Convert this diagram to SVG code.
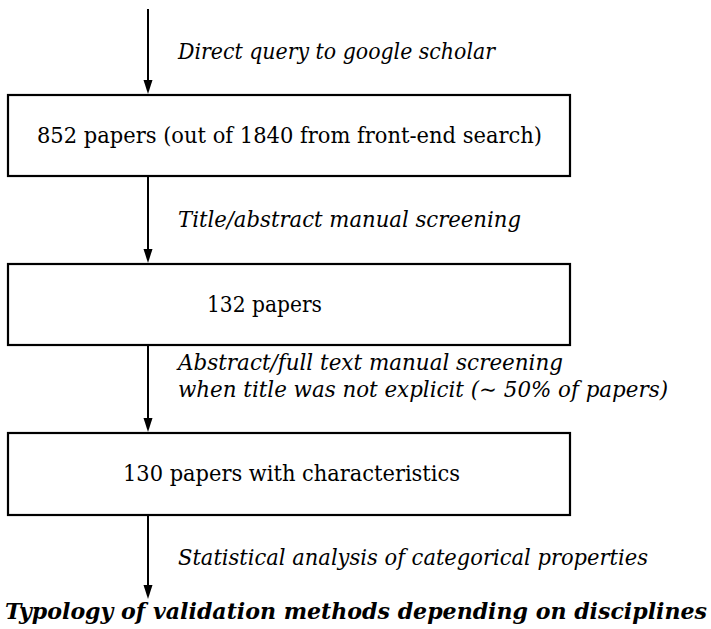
<svg xmlns="http://www.w3.org/2000/svg" width="711" height="629" viewBox="0 0 711 629">
<style>
.box{fill:#fff;stroke:#000;stroke-width:2.2}
.edge{stroke:#000;stroke-width:2;fill:none}
.head{fill:#000;stroke:none}
.t{font-family:'DejaVu Serif',serif;font-size:22px;fill:#000}
.i{font-family:'DejaVu Serif',serif;font-size:22px;font-style:italic;fill:#000}
.b{font-family:'DejaVu Serif',serif;font-size:22px;font-style:italic;font-weight:bold;fill:#000}
</style>
<rect width="711" height="629" fill="#fff"/>
<g id="connectors">
<line class="edge" x1="148" y1="9" x2="148" y2="84"/>
<polygon class="head" points="143.5,80 152.5,80 148,94"/>
<line class="edge" x1="148" y1="176" x2="148" y2="253"/>
<polygon class="head" points="143.5,249 152.5,249 148,263"/>
<line class="edge" x1="148" y1="345" x2="148" y2="422"/>
<polygon class="head" points="143.5,418 152.5,418 148,432"/>
<line class="edge" x1="148" y1="515" x2="148" y2="589"/>
<polygon class="head" points="143.5,585 152.5,585 148,599"/>
<text class="i" x="178" y="59" textLength="317" lengthAdjust="spacingAndGlyphs">Direct query to google scholar</text>
<text class="i" x="178" y="227" textLength="343" lengthAdjust="spacingAndGlyphs">Title/abstract manual screening</text>
<text class="i" x="178" y="370" textLength="385" lengthAdjust="spacingAndGlyphs">Abstract/full text manual screening</text>
<text class="i" x="178" y="397" textLength="490" lengthAdjust="spacingAndGlyphs">when title was not explicit (∼ 50% of papers)</text>
<text class="i" x="178" y="565" textLength="470" lengthAdjust="spacingAndGlyphs">Statistical analysis of categorical properties</text>
</g>
<g id="n1">
<rect class="box" x="8" y="95" width="562" height="81"/>
<text class="t" x="37" y="143" textLength="505" lengthAdjust="spacingAndGlyphs">852 papers (out of 1840 from front-end search)</text>
</g>
<g id="n2">
<rect class="box" x="8" y="264" width="562" height="81"/>
<text class="t" x="207" y="312" textLength="115" lengthAdjust="spacingAndGlyphs">132 papers</text>
</g>
<g id="n3">
<rect class="box" x="8" y="433" width="562" height="82"/>
<text class="t" x="123" y="481" textLength="337" lengthAdjust="spacingAndGlyphs">130 papers with characteristics</text>
</g>
<g id="n4">
<text class="b" x="5" y="619" textLength="702" lengthAdjust="spacingAndGlyphs">Typology of validation methods depending on disciplines</text>
</g>
</svg>
